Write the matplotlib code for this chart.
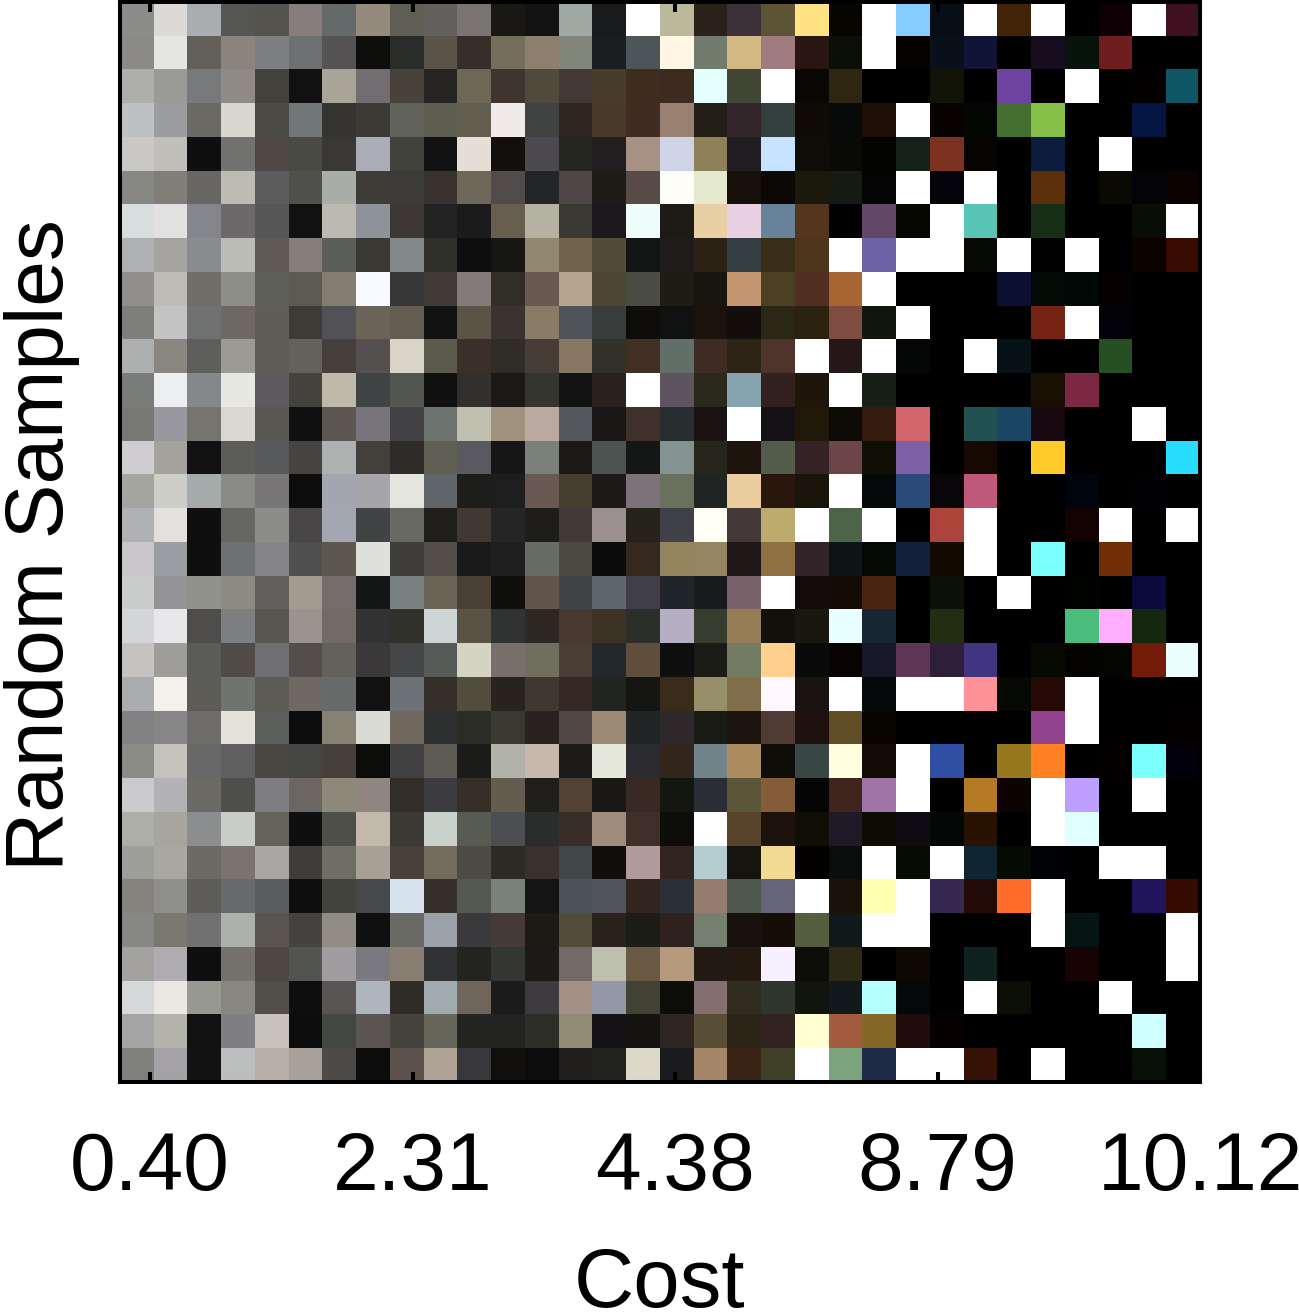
import matplotlib
matplotlib.use('Agg')
import matplotlib.pyplot as plt
import numpy as np

plt.rcParams['font.family'] = ['Liberation Sans', 'DejaVu Sans']

cost_labels = ['0.40', '2.31', '4.38', '8.79', '10.12']

# One row of image cells per line, left half then right half
rows = [
    "8c8c8a dcd9d6 a9adb0 555552 54534e 867d7c 636a69 948b7e 5f5f55 625f5d 7a7572 191815 131313 a1a9a4 191b1d ffffff "
    "bbb99c 2a2118 3c3138 5c5432 ffe282 060500 ffffff 85ccff 080e16 ffffff 422409 ffffff 000000 0e0005 ffffff 3f1020",
    "8b8a88 e5e6e1 635f59 8a847c 7e7f83 6e6f71 545253 0e0e0c 2a2c2a 5b5347 352f2a 756e5c 8d7f6d 82867a 1c1d20 4c5557 "
    "fff7e3 717c6e d2b883 a07b7f 2a1610 0c0f08 ffffff 060200 09101a 101437 000000 150c1e 08130b 6f1e20 000000 000000",
    "aeaeab 9a9b97 78797a 8f8a85 43423d 111111 a8a498 716d70 48423a 272523 6f6755 3f342e 4e4a3c 433833 483c2c 3f2e20 "
    "3c2b1e e5ffff 414635 ffffff 080704 2e2611 000000 000000 121307 000000 6e42a0 000000 ffffff 000000 050000 0f5764",
    "bdc1c2 9a9ca0 6b6964 d8d6cf 4b4a45 717678 363431 3c3a34 61625a 605e50 625f50 f1eaea 414443 302620 483828 3e2d20 "
    "9a8070 241f16 32262b 333f3f 0f0a06 070a08 1e0f07 ffffff 070100 030603 446e30 85bf48 000000 000000 051645 000000",
    "c9c8c5 bfbeb8 0f0f0f 727371 4f4844 4a4a44 393836 aaadb5 42423c 121212 e6ddd6 120f0d 4d4950 262620 231f20 a79185 "
    "ced3e6 8e8058 1f1c22 c7e3ff 0d0c06 090906 030300 15221a 7c3220 060300 000000 0c1c3c 000000 ffffff 000000 000000",
    "878883 817d77 686663 bcbcb2 5c5c5c 50504d a8ada8 3f3b36 3c3b38 38312d 6b6759 514b4b 242527 514647 1e1c17 574a47 "
    "fffdf7 e4e9cf 16100b 0c0805 1a190b 151a13 040404 ffffff 05040b ffffff 000000 5c300a 000000 0a0a03 030308 0c0200",
    "d8dddd e1e1e1 84868c 6b6969 565657 111111 bcb9b0 8e9299 3d3735 232323 1b1b1b 675e50 b4b2a3 3a3a32 1b191b effdfa "
    "1e1a15 e8d0a4 e6d0e2 688299 54361f 020202 624868 060700 ffffff 57c4b5 000000 172e17 000000 000000 080e04 ffffff",
    "afb0b3 a5a3a0 8a8c90 bbbcb6 5f5a56 877d7b 5c5e5a 3b3934 828887 2e2f29 0e0e0e 171815 91886f 72634d 534a38 131414 "
    "211c1c 2c2216 353e40 392e18 4d361c ffffff 6e62a6 ffffff ffffff 060903 ffffff 010101 ffffff 000000 0c0200 380c00",
    "908f8c bfbcb8 706d68 8d8e87 5f5f59 5d5a51 827f72 f7faff 373737 403a36 837a7c 312e26 685a50 b5a58e 4d4634 4a4c44 "
    "1f1d12 17150d c4956f 4c4024 502e20 a66533 ffffff 000000 000000 000000 0c1030 040a06 020806 060000 000000 000000",
    "7e7e7b c3c3c3 707171 6d6962 605d57 3d3b36 525155 6c6459 655c52 121212 5c5347 3a3431 887c66 4d5357 383c3a 0e0d0a "
    "101212 1c120c 140e0a 2a2714 2b2210 7f4c42 12150d ffffff 000000 000000 000000 762214 ffffff 020208 000000 000000",
    "adb0ae 8a8781 5e5e5c 9b9a94 5f5c55 62615b 453f3c 545050 d8d4c8 5c5a4c 3b3029 302d28 473c36 887665 32322b 412f24 "
    "626e68 3e2c24 2e2416 4e342a ffffff 261818 ffffff 040705 000000 ffffff 061118 000000 000000 265023 000000 000000",
    "7a7c7a edeef0 84888a e8e8e2 5c5a5f 43423d bebaaa 414445 535550 101010 31302d 1a1917 33352e 131313 2c221d ffffff "
    "5e5460 2a2a1c 86a4b0 32201e 20150a ffffff 171f16 000000 000000 000000 000000 1a0f03 7d2842 000000 000000 000000",
    "787875 98989e 75746d dad6d0 595752 101010 5c5750 78767c 434345 6d736e bfc0b0 9e917e b9a9a1 565860 1a1816 40312a "
    "282d30 1a1212 ffffff 151216 21180a 0c0b05 351b0d d2666c 000000 235050 1a4664 180810 000000 000000 ffffff 000000",
    "cfcdd1 a5a29e 111111 5c5d59 58595b 474341 adb2b0 433f3a 2e2a27 5f5f54 5a5960 161616 7a807b 1c1815 4c5350 141716 "
    "849392 26261a 1e140d 535c4a 342226 6c4646 100f06 7e60a6 000000 160802 000000 ffca2a 000000 000000 000000 2adcff",
    "a5a59f cdcec8 a5abab 898a85 787677 0d0d0d a3a6b1 a5a5ab e4e6de 5f6568 1d1d1b 1e1e1e 685a52 483e30 1c1a16 7d7279 "
    "6a6f5e 202422 e9cd9f 29170d 1a150b ffffff 060909 2a4a78 0a0508 c0587c 000000 000000 00040c 000000 000005 000000",
    "b0b1b4 e3e0dd 0f0f0f 666662 8c8d89 484647 a3a7b2 424345 686960 1f1e1b 413833 252525 1e1d1b 433835 9c8f8f 25221a "
    "404048 fffff5 453838 bdab6d ffffff 4e6448 ffffff 000000 ac443c ffffff 000000 000000 120202 ffffff 000000 ffffff",
    "cac7ca 9a9da2 0f0f0f 6f7072 858587 505050 5c574f dfe0dc 403e3b 544f4a 191919 1e1e1e 676d63 4c4a40 0b0b0b 35281f "
    "93865f 958560 1e1718 8f7144 322428 0d1416 050805 14203a 120a00 ffffff 000000 7cffff 000000 702d06 000000 000000",
    "c9cccb 949496 91928b 8d8a82 625e5b a39b90 736e6b 131615 7a8182 6b6355 4a4036 0f0f0d 62564c 404445 5e686c 3f3e49 "
    "1f2528 181a1d 7a626a ffffff 130c0a 140b05 4a2410 000000 0b1009 000000 ffffff 000000 010301 000000 0a0a3c 000000",
    "d4d5d9 e8e8ea 4e4d4b 7e7f81 575750 99958e 726a64 323232 31312b cdd6d4 5a5244 303332 2e2722 483a30 3d3226 2c2f29 "
    "b6aec2 393d30 977d55 11100a 1a170e e8ffff 182632 000000 222e12 000000 000000 000000 4abd7d ffaeff 15280f 000000",
    "c6c2c0 9e9d9a 5b5b59 504b46 6f6f72 534e4b 62615b 3a3839 444547 565b58 d3d4c2 7a6f6a 6f6e5f 4a3d34 23282c 5f4e3c "
    "0f0f0f 1a1c15 737c62 fdd08e 0a0a0a 080300 191828 5e3655 2e1e38 413582 000000 060a03 050300 040400 731c0a ecffff",
    "abacb0 f4f1ed 5c5b56 717371 5d5c54 6d6861 676b6a 111111 6b7174 352f29 504c3e 28231f 3d3830 352823 222420 151513 "
    "3a2c1a 978f6a 806d49 fff8ff 1b1212 ffffff 06080a ffffff ffffff ff9199 060803 260806 ffffff 000000 000000 000000",
    "828282 868686 6d6c69 e4e2d9 5d5f5d 0d0d0d 888275 dadbd4 70675d 2e3030 2c2c27 3b3830 282320 524845 9c8a75 212526 "
    "2e282a 1a1c14 1e1412 503a34 1e100c 624e26 080400 000000 000000 000000 000000 92428d ffffff 000000 000000 050000",
    "8c8c87 c5c2bb 676767 606060 4a4640 454543 463f3b 0c0c0a 414141 5c5a52 1b1b19 b1b3a8 c7b8ae 1c1b19 e4e7da 2b2b30 "
    "33261c 708489 ad8d60 0e0d07 384644 ffffe0 120a05 ffffff 2f4ea4 000000 97781e ff8020 000000 040000 7cffff 02000c",
    "cbcbce b3b2b7 6b6a65 4e4e4b 7e7e81 6b6661 8c887a 908581 332d29 3c3c40 362f28 645c4e 1f1e1a 524235 191815 382a23 "
    "141610 2a2d36 5b5539 845c38 050505 40241e a074a6 ffffff 000000 b57a24 0c0300 ffffff be9eff 000000 ffffff 000000",
    "adaea8 a8a59f 8c8d8e c9cdca 65625a 0f0f0f 4d4f48 c3b8ac 3c3834 c8d1cb 585b52 4c4e52 2b2c2c 382d27 9f8c7c 402f28 "
    "0d0d0a ffffff 58442a 1e120c 100f06 201a28 0d0c03 100a12 030806 2a1200 000000 ffffff e0ffff 000000 000000 000000",
    "9e9e9a aaa7a1 6b6b64 7a7470 aaa6a5 3e3d3a 6e6e65 a8a094 4a3f39 746a5e 4c4c44 2d2923 3c302e 414648 110f0e b09a9a "
    "32241f b3cdd1 15150e f2da92 030100 0a0d0b ffffff 080a04 ffffff 0f2632 060a02 010206 000000 ffffff ffffff 000000",
    "86837f 8f908e 5f5d5a 676b6b 5a5c5f 0f0f0f 44443e 47484a d6e3ec 35312a 565951 7a807a 141414 4b525a 535360 33261f "
    "2b3038 967c6e 4e584c 666478 ffffff 1c1108 ffffb0 ffffff 372850 240a06 ff6c2c ffffff 000000 000000 20145a 360c02",
    "878785 7a786f 717171 adb1ac 5a5450 444340 918d84 101010 696a63 9aa1a9 3a3a3c 453a35 1b1a15 534c3a 2a231b 1c1d17 "
    "2e211e 758070 17120e 170d07 555f40 101a1a ffffff ffffff 000000 000000 000000 ffffff 061414 000000 000000 ffffff",
    "a3a2a0 aeabb1 0f0f0f 75716d 4c4841 525452 a09ca0 7b7980 897e72 313234 232320 343632 1b1a17 736966 bdc0ae 6a5a44 "
    "b59a7e 231a14 24190f f6f0ff 0c0d07 2c2a14 000000 0e0802 000000 0f2220 000000 000000 160302 000000 000000 ffffff",
    "d4d8d9 ebe8e4 979991 888780 524e48 0e0e0e 585453 aeb5bd 2f2b27 a0abb0 70655a 1b1b1b 3d3b3d a39087 9398a6 424234 "
    "0d0d0a 836f70 302d20 2e352c 12140e 12191c b4ffff 040808 000000 ffffff 0a0e04 000000 000000 ffffff 000000 000000",
    "a5a5a6 b3b3aa 111111 7f7e82 c9c1bc 0d0d0d 444644 5a5552 44433e 67665a 242422 232321 2e2e29 928b75 141214 151310 "
    "2f2523 574c34 2c2416 322222 ffffd2 a35b40 846626 200d0b 060100 000000 000000 000000 000000 000000 d0ffff 000000",
    "80807c a4a2a6 121212 bbbebc b9afa8 a9a099 4e4a48 0c0c0c 5c514b b0a497 38383c 11100e 0c0c0c 201f1d 22231f ddd9c8 "
    "1b1b1d a68668 3a2415 403f28 ffffff 7ca47c 1e2b46 ffffff ffffff 361206 000000 ffffff 000000 000000 081008 000000",
]

# hex strings -> rgb image
img = np.array([[[int(c[i:i + 2], 16) for i in (0, 2, 4)] for c in r.split()] for r in rows], dtype=np.uint8)

W, H = 1299, 1313
fig = plt.figure(figsize=(W / 100, H / 100), dpi=100)
ax = fig.add_axes([120 / W, 1 - 1082 / H, 1080 / W, 1079.7 / H])
ax.imshow(img, interpolation='nearest', aspect='auto')

# ticks run from the second cell to the right edge
n = img.shape[1]
ax.set_xticks(np.linspace(0.39, n - 0.5, len(cost_labels)))
ax.set_xticklabels(cost_labels)
ax.set_yticks([])
ax.tick_params(axis='x', direction='in', top=True, bottom=True, length=7, width=2.9, pad=35, labelsize=59, color='black')
for s in ax.spines.values():
    s.set_linewidth(2.9)
ax.set_xlabel('Cost', fontsize=60, labelpad=28)
ax.set_ylabel('Random Samples', fontsize=59, labelpad=29, y=0.497)

fig.savefig('out.png', dpi=100)
plt.close(fig)
